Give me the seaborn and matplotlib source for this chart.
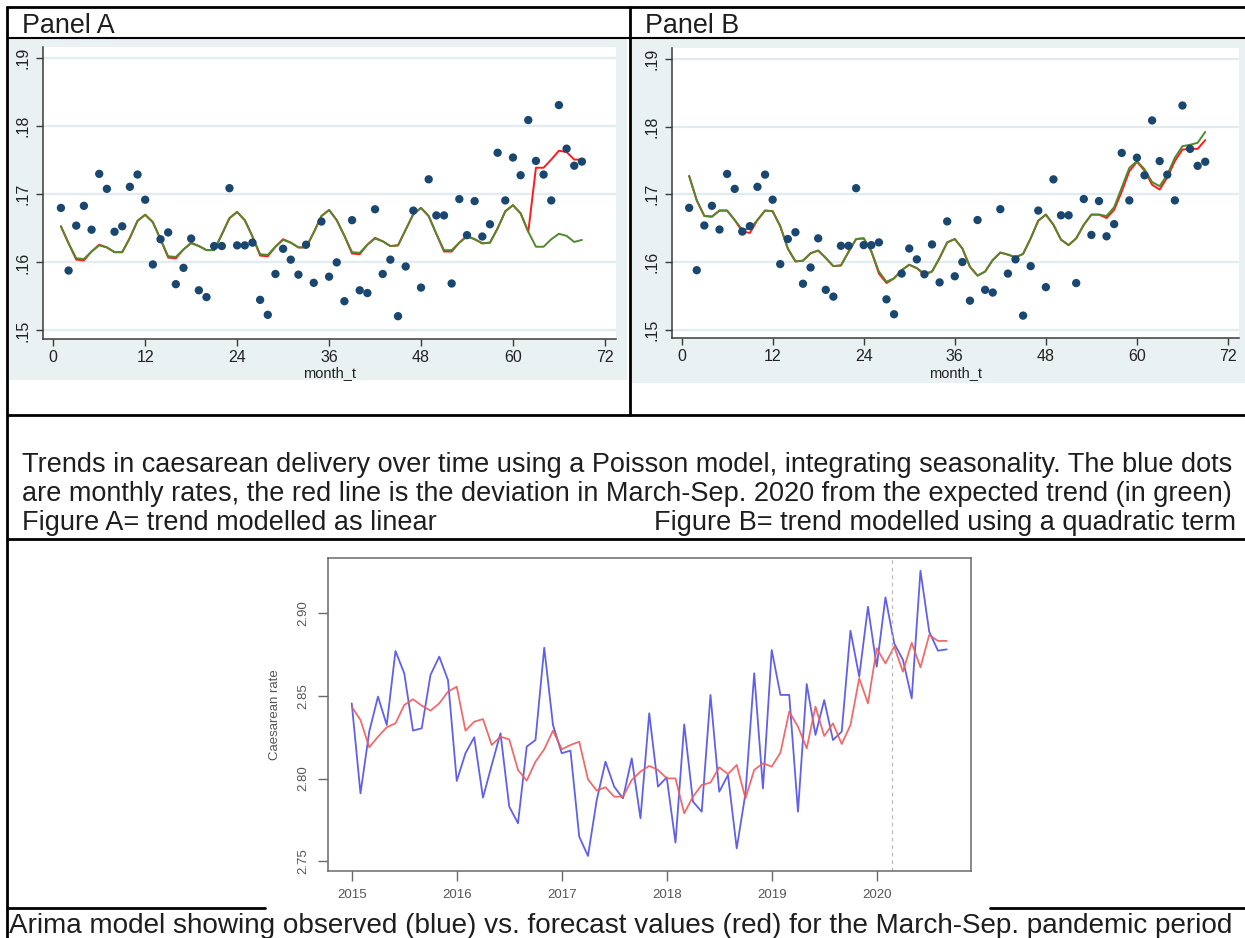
import numpy as np
import pandas as pd
import matplotlib
matplotlib.use("Agg")
import matplotlib.pyplot as plt
import seaborn as sns
from matplotlib.lines import Line2D
from matplotlib.patches import Rectangle

# ---------------------------------------------------------------- data
# monthly caesarean rate, month_t = 1 (Jan 2015) .. 69 (Sep 2020)
month_t = np.arange(1, 70)
cs_rate = [
    0.1680, 0.1588, 0.1654, 0.1683, 0.1648, 0.1730, 0.1708, 0.1645, 0.1653, 0.1711,
    0.1729, 0.1692, 0.1597, 0.1634, 0.1644, 0.1568, 0.1592, 0.1635, 0.1559, 0.1549,
    0.1624, 0.1624, 0.1709, 0.1625, 0.1625, 0.1629, 0.1545, 0.1523, 0.1583, 0.1620,
    0.1604, 0.1582, 0.1626, 0.1570, 0.1660, 0.1579, 0.1600, 0.1543, 0.1662, 0.1559,
    0.1555, 0.1678, 0.1583, 0.1604, 0.1521, 0.1594, 0.1676, 0.1563, 0.1722, 0.1669,
    0.1669, 0.1569, 0.1693, 0.1640, 0.1690, 0.1638, 0.1656, 0.1761, 0.1691, 0.1754,
    0.1728, 0.1809, 0.1749, 0.1729, 0.1691, 0.1831, 0.1767, 0.1742, 0.1748,
]

# Panel A: linear trend + seasonality
expected_linear = [
    0.1653, 0.1628, 0.1606, 0.1605, 0.1616, 0.1625, 0.1622, 0.1615, 0.1615, 0.1636,
    0.1661, 0.1670, 0.1659, 0.1634, 0.1609, 0.1608, 0.1619, 0.1628, 0.1624, 0.1618,
    0.1618, 0.1641, 0.1665, 0.1674, 0.1662, 0.1638, 0.1612, 0.1611, 0.1623, 0.1633,
    0.1629, 0.1622, 0.1622, 0.1644, 0.1668, 0.1677, 0.1662, 0.1639, 0.1615, 0.1614,
    0.1626, 0.1635, 0.1631, 0.1624, 0.1625, 0.1648, 0.1671, 0.1680, 0.1668, 0.1642,
    0.1618, 0.1618, 0.1629, 0.1638, 0.1634, 0.1628, 0.1629, 0.1650, 0.1675, 0.1684,
    0.1672, 0.1645, 0.1623, 0.1623, 0.1634, 0.1642, 0.1639, 0.1630, 0.1633,
]
observed_linear = [
    0.1653, 0.1628, 0.1604, 0.1603, 0.1616, 0.1626, 0.1622, 0.1615, 0.1615, 0.1636,
    0.1661, 0.1670, 0.1659, 0.1634, 0.1607, 0.1606, 0.1619, 0.1629, 0.1624, 0.1618,
    0.1618, 0.1641, 0.1665, 0.1674, 0.1662, 0.1638, 0.1610, 0.1609, 0.1623, 0.1634,
    0.1629, 0.1622, 0.1622, 0.1644, 0.1668, 0.1677, 0.1662, 0.1639, 0.1613, 0.1612,
    0.1626, 0.1636, 0.1631, 0.1624, 0.1625, 0.1648, 0.1671, 0.1680, 0.1668, 0.1642,
    0.1616, 0.1616, 0.1629, 0.1639, 0.1634, 0.1628, 0.1629, 0.1650, 0.1675, 0.1684,
    0.1672, 0.1645, 0.1739, 0.1739, 0.1751, 0.1764, 0.1762, 0.1751, 0.1751,
]

# Panel B: quadratic trend + seasonality
expected_quad = [
    0.1727, 0.1691, 0.1668, 0.1667, 0.1676, 0.1676, 0.1662, 0.1648, 0.1649, 0.1662,
    0.1676, 0.1675, 0.1653, 0.1620, 0.1601, 0.1602, 0.1613, 0.1617, 0.1606, 0.1594,
    0.1595, 0.1615, 0.1634, 0.1635, 0.1616, 0.1586, 0.1571, 0.1576, 0.1588, 0.1596,
    0.1591, 0.1583, 0.1586, 0.1606, 0.1629, 0.1634, 0.1620, 0.1593, 0.1580, 0.1586,
    0.1603, 0.1614, 0.1611, 0.1607, 0.1612, 0.1635, 0.1661, 0.1670, 0.1655, 0.1633,
    0.1625, 0.1635, 0.1655, 0.1670, 0.1670, 0.1668, 0.1681, 0.1710, 0.1739, 0.1749,
    0.1737, 0.1718, 0.1712, 0.1729, 0.1754, 0.1771, 0.1773, 0.1776, 0.1792,
]
observed_quad = [
    0.1727, 0.1691, 0.1668, 0.1667, 0.1676, 0.1676, 0.1662, 0.1645, 0.1643, 0.1662,
    0.1676, 0.1675, 0.1653, 0.1620, 0.1601, 0.1602, 0.1613, 0.1617, 0.1606, 0.1594,
    0.1595, 0.1615, 0.1634, 0.1635, 0.1616, 0.1583, 0.1569, 0.1576, 0.1588, 0.1596,
    0.1591, 0.1581, 0.1586, 0.1606, 0.1629, 0.1634, 0.1620, 0.1593, 0.1580, 0.1586,
    0.1603, 0.1614, 0.1611, 0.1607, 0.1612, 0.1635, 0.1661, 0.1670, 0.1655, 0.1633,
    0.1625, 0.1635, 0.1655, 0.1670, 0.1670, 0.1665, 0.1677, 0.1704, 0.1734, 0.1748,
    0.1735, 0.1714, 0.1707, 0.1725, 0.1749, 0.1766, 0.1767, 0.1767, 0.1780,
]

# ARIMA: observed vs forecast caesarean rate, Jan 2015 .. Sep 2020
arima_observed = [
    2.8455, 2.7910, 2.8284, 2.8496, 2.8324, 2.8772, 2.8637, 2.8290, 2.8304, 2.8627,
    2.8738, 2.8596, 2.7985, 2.8153, 2.8250, 2.7884, 2.8082, 2.8274, 2.7830, 2.7729,
    2.8193, 2.8233, 2.8792, 2.8324, 2.8153, 2.8169, 2.7648, 2.7531, 2.7870, 2.8102,
    2.7950, 2.7880, 2.8122, 2.7759, 2.8395, 2.7951, 2.8007, 2.7612, 2.8328, 2.7860,
    2.7799, 2.8506, 2.7920, 2.8021, 2.7577, 2.7910, 2.8637, 2.7940, 2.8778, 2.8506,
    2.8506, 2.7799, 2.8572, 2.8264, 2.8475, 2.8233, 2.8284, 2.8895, 2.8617, 2.9040,
    2.8677, 2.9097, 2.8818, 2.8718, 2.8485, 2.9258, 2.8889, 2.8774, 2.8782,
]
arima_forecast = [
    2.8435, 2.8354, 2.8189, 2.8253, 2.8310, 2.8334, 2.8445, 2.8480, 2.8441, 2.8411,
    2.8455, 2.8526, 2.8556, 2.8290, 2.8344, 2.8360, 2.8203, 2.8253, 2.8237, 2.8052,
    2.7987, 2.8102, 2.8177, 2.8290, 2.8177, 2.8203, 2.8223, 2.7995, 2.7927, 2.7947,
    2.7890, 2.7890, 2.7991, 2.8042, 2.8076, 2.8052, 2.8001, 2.8001, 2.7789, 2.7890,
    2.7961, 2.7975, 2.8068, 2.8027, 2.8082, 2.7880, 2.8052, 2.8092, 2.8072, 2.8157,
    2.8405, 2.8314, 2.8183, 2.8435, 2.8257, 2.8334, 2.8209, 2.8324, 2.8607, 2.8455,
    2.8788, 2.8697, 2.8798, 2.8647, 2.8822, 2.8673, 2.8869, 2.8833, 2.8833,
]
arima_time = 2015 + np.arange(len(arima_observed)) / 12
pandemic_start = 2020.15

stata_xticks = [0, 12, 24, 36, 48, 60, 72]
stata_yticks = [0.15, 0.16, 0.17, 0.18, 0.19]
stata_yticklabels = [".15", ".16", ".17", ".18", ".19"]
arima_xticks = [2015, 2016, 2017, 2018, 2019, 2020]
arima_yticks = [2.75, 2.80, 2.85, 2.90]
arima_yticklabels = ["2.75", "2.80", "2.85", "2.90"]

caption_1 = "Trends in caesarean delivery over time using a Poisson model, integrating seasonality. The blue dots"
caption_2 = "are monthly rates, the red line is the deviation in March-Sep. 2020 from the expected trend (in green)"
caption_3a = "Figure A= trend modelled as linear"
caption_3b = "Figure B= trend modelled using a quadratic term"
caption_4 = "Arima model showing observed (blue) vs. forecast values (red) for the March-Sep. pandemic period"

# ---------------------------------------------------------------- figure
sns.set_theme(style="white")
plt.rcParams["font.family"] = ["Liberation Sans", "DejaVu Sans"]

W, H = 1245, 938
fig = plt.figure(figsize=(W / 100, H / 100), dpi=100)
fig.patch.set_facecolor("white")


def frac_box(x0, y0, x1, y1):
    """pixel box (top-left origin) -> figure fraction [l, b, w, h]"""
    return [x0 / W, 1 - y1 / H, (x1 - x0) / W, (y1 - y0) / H]


def hline(y, x0, x1, lw=2.0):
    fig.add_artist(Line2D([x0 / W, x1 / W], [1 - y / H, 1 - y / H],
                          color="black", lw=lw, transform=fig.transFigure))


def vline(x, y0, y1, lw=2.0):
    fig.add_artist(Line2D([x / W, x / W], [1 - y0 / H, 1 - y1 / H],
                          color="black", lw=lw, transform=fig.transFigure))


def ftext(x, y, s, **kw):
    fig.text(x / W, 1 - y / H, s, transform=fig.transFigure, **kw)


STATA_BG = "#EAF1F3"
STATA_GRID = "#E2ECEE"
NAVY = "#1A476F"
GREEN = "#4F8A2E"
TEXT = "#1E1E1E"


def stata_panel(bg, plot, expected, observed):
    fig.add_artist(Rectangle((bg[0] / W, 1 - bg[3] / H), (bg[2] - bg[0]) / W,
                             (bg[3] - bg[1]) / H, transform=fig.transFigure,
                             facecolor=STATA_BG, edgecolor="none", zorder=0))
    ax = fig.add_axes(frac_box(*plot))
    ax.set_facecolor("white")
    df = pd.DataFrame({"month_t": month_t, "rate": cs_rate,
                       "expected": expected, "observed": observed})
    sns.lineplot(data=df, x="month_t", y="observed", color="#FF1A1A",
                 lw=1.4, ax=ax, zorder=3)
    sns.lineplot(data=df, x="month_t", y="expected", color=GREEN,
                 lw=1.4, ax=ax, zorder=4)
    sns.scatterplot(data=df, x="month_t", y="rate", color=NAVY, s=36,
                    edgecolor="none", ax=ax, zorder=5)
    ax.set_xlim(-1.3, 73.45)
    ax.set_ylim(0.14875, 0.19163)
    ax.set_xticks(stata_xticks)
    ax.set_yticks(stata_yticks)
    ax.set_yticklabels(stata_yticklabels, rotation=90, va="center")
    ax.yaxis.grid(True, color=STATA_GRID, lw=1.6)
    ax.xaxis.grid(False)
    ax.set_axisbelow(True)
    for s in ("top", "right"):
        ax.spines[s].set_visible(False)
    for s in ("left", "bottom"):
        ax.spines[s].set_color("#3A3A3A")
        ax.spines[s].set_linewidth(1.1)
    ax.tick_params(axis="both", which="both", direction="out", length=5,
                   width=1.0, color="#3A3A3A", labelcolor="#222222",
                   labelsize=11.5, left=True, bottom=True)
    ax.tick_params(axis="x", pad=3)
    ax.tick_params(axis="y", pad=4)
    ax.set_xlabel("month_t", fontsize=10.5, color="#222222", labelpad=1)
    ax.set_ylabel("")
    return ax


stata_panel((7, 38, 627, 380), (43.3, 47, 616, 339),
            expected_linear, observed_linear)
stata_panel((632, 38, 1245, 383), (671.7, 47.7, 1239, 338.3),
            expected_quad, observed_quad)

# ---------------------------------------------------------------- ARIMA plot
ax3 = fig.add_axes(frac_box(327.7, 557.7, 971, 871))
ax3.set_facecolor("white")
adf = pd.DataFrame({"time": arima_time, "observed": arima_observed,
                    "forecast": arima_forecast})
sns.lineplot(data=adf, x="time", y="observed", color="#4F4FE8", lw=1.3,
             alpha=0.9, ax=ax3)
sns.lineplot(data=adf, x="time", y="forecast", color="#EE5C5C", lw=1.3,
             alpha=0.9, ax=ax3)
ax3.axvline(pandemic_start, color="#BBBBBB", lw=0.9, ls=(0, (3, 3)))
ax3.set_xlim(2014.771, 2020.898)
ax3.set_ylim(2.744, 2.9337)
ax3.set_xticks(arima_xticks)
ax3.set_yticks(arima_yticks)
ax3.set_yticklabels(arima_yticklabels, rotation=90, va="center")
for s in ax3.spines.values():
    s.set_color("#6A6A6A")
    s.set_linewidth(1.1)
ax3.tick_params(axis="both", direction="out", length=7, width=1.0,
                color="#6A6A6A", labelcolor="#555555", labelsize=9.5,
                left=True, bottom=True, pad=6)
ax3.set_xlabel("")
ax3.set_ylabel("Caesarean rate", fontsize=9.5, color="#555555", labelpad=12)

# ---------------------------------------------------------------- table frame
hline(7, 7, 1245)
hline(38, 7, 1245, lw=1.5)
hline(415, 7, 1245)
hline(539, 7, 1245)
hline(908, 7, 265)
hline(908, 990, 1245)
vline(7, 7, 938)
vline(630, 7, 415)

ftext(22, 33, "Panel A", fontsize=19.4, color=TEXT, va="baseline")
ftext(645, 33, "Panel B", fontsize=19.4, color=TEXT, va="baseline")
ftext(22, 472, caption_1, fontsize=19.5, color=TEXT, va="baseline")
ftext(22, 501, caption_2, fontsize=19.5, color=TEXT, va="baseline")
ftext(22, 530, caption_3a, fontsize=19.5, color=TEXT, va="baseline")
ftext(1236, 530, caption_3b, fontsize=19.5, color=TEXT, va="baseline",
      ha="right")
ftext(9, 933, caption_4, fontsize=20.1, color=TEXT, va="baseline")

fig.savefig("out.png", dpi=100, facecolor="white")
